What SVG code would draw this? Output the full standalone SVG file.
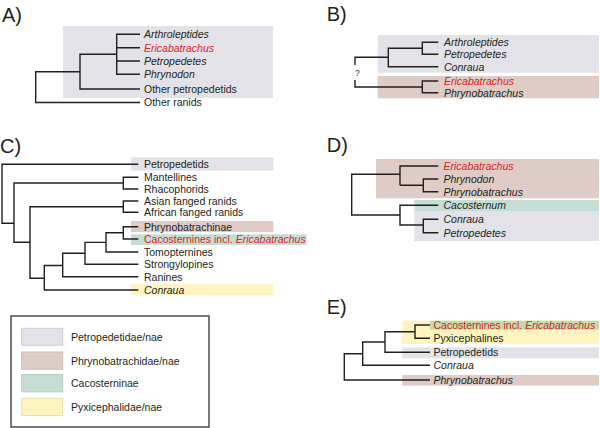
<svg xmlns="http://www.w3.org/2000/svg" width="600" height="428" viewBox="0 0 600 428">
<style>
text{font-family:"Liberation Sans",Arial,Helvetica,sans-serif;font-size:10.5px;fill:#231f20}
.pl{font-size:20px}
.q{font-size:8.5px}
.i{font-style:italic}
.r{fill:#d7261e}
.tree{fill:none;stroke:#231f20;stroke-width:1.4;stroke-linecap:butt;stroke-linejoin:miter}
.gy{fill:#e2e2e8}
.pk{fill:#dfccc6}
.gn{fill:#c5ddd4}
.yl{fill:#fff4c0}
.gnyl{fill:#c4dcaa}
.sw{stroke-width:1}
.sw.gy{stroke:#cdcdd5}
.sw.pk{stroke:#d0bcb4}
.sw.gn{stroke:#b5cfc4}
.sw.yl{stroke:#e6dfae}
</style>
<rect width="600" height="428" fill="#fff"/>
<g id="backgrounds">
<rect class="gy" x="63" y="26" width="210" height="72"/>
<rect class="gy" x="377.7" y="35" width="221.3" height="37.7"/>
<rect class="pk" x="377.7" y="76" width="221.3" height="22.3"/>
<rect class="gy" x="131" y="157.3" width="142.3" height="13.4"/>
<rect class="pk" x="131" y="221" width="142.3" height="11.2"/>
<rect class="gn" x="131" y="234.3" width="175.5" height="10.7"/>
<rect class="yl" x="131" y="284.3" width="142.3" height="11"/>
<rect class="pk" x="376" y="159" width="223" height="39.3"/>
<rect class="gn" x="414.3" y="200" width="184.7" height="11"/>
<rect class="gy" x="414.3" y="211" width="184.7" height="30"/>
<rect class="yl" x="402.3" y="320.7" width="196.7" height="23.3"/>
<rect class="gnyl" x="430" y="320.7" width="169" height="9"/>
<rect class="gy" x="402.3" y="347.3" width="196.7" height="11"/>
<rect class="pk" x="402.3" y="375" width="196.7" height="10.7"/>
</g>
<g id="panel-labels">
<text class="pl" x="2" y="21.5">A)</text>
<text class="pl" x="326.7" y="20.5">B)</text>
<text class="pl" x="0" y="152.5">C)</text>
<text class="pl" x="326.7" y="151.5">D)</text>
<text class="pl" x="326.7" y="314">E)</text>
</g>
<g id="connectors">
<path class="tree" d="M140,34.3H116.7V74.3H140M116.7,47.8H140M116.7,61H140M116.7,54.3H80V89H140M80,71.7H35.7V102.5H140"/>
<path class="tree" d="M438.3,42.3H422.3V54.3H438.3M422.3,48.3H388.3V66.7H438.3M388.3,57.3H355V65M355,80V87H422.3M438.3,81H422.3V92.7H438.3"/>
<path class="tree" d="M138.3,164.3H2V223.3H14M138.3,177.3H123.3V189H138.3M123.3,183H14V242.3H30M138.3,201H123.3V212.3H138.3M123.3,206.7H30V278.3H44.3M138.3,226.7H123.3V239H138.3M123.3,232.8H106V252H138.3M106,242.4H85V264.3H138.3M85,253.3H62.7V276.7H138.3M62.7,265.5H44.3V290H138.3"/>
<path class="tree" d="M438.3,179H423.3V191.7H438.3M423.3,185.3H400M438.3,166H400V185.3M400,174.3H351.7V215H400M438.3,205.3H400V225H423.3M438.3,219.3H423.3V232.7H438.3"/>
<path class="tree" d="M430,325H415V338.3H430M415,331.7H385V352.3H430M385,342H362.7V365.3H430M362.7,353.7H344.3V380H430"/>
</g>
<g id="A">
<g id="A-arthroleptides"><text class="i" x="144" y="38.1">Arthroleptides</text></g>
<g id="A-ericabatrachus"><text class="i r" x="144" y="51.6">Ericabatrachus</text></g>
<g id="A-petropedetes"><text class="i" x="144" y="64.8">Petropedetes</text></g>
<g id="A-phrynodon"><text class="i" x="144" y="78.1">Phrynodon</text></g>
<g id="A-other-petropedetids"><text x="144" y="92.8">Other petropedetids</text></g>
<g id="A-other-ranids"><text x="144" y="106.3">Other ranids</text></g>
</g>
<g id="B">
<g id="B-arthroleptides"><text class="i" x="444" y="46.1">Arthroleptides</text></g>
<g id="B-petropedetes"><text class="i" x="444" y="58.1">Petropedetes</text></g>
<g id="B-conraua"><text class="i" x="444" y="70.5">Conraua</text></g>
<g id="B-ericabatrachus"><text class="i r" x="444" y="84.8">Ericabatrachus</text></g>
<g id="B-phrynobatrachus"><text class="i" x="444" y="96.5">Phrynobatrachus</text></g>
<g id="B-question"><text class="q" x="355" y="76">?</text></g>
</g>
<g id="C">
<g id="C-petropedetids"><text x="144" y="168.1">Petropedetids</text></g>
<g id="C-mantellines"><text x="144" y="181.1">Mantellines</text></g>
<g id="C-rhacophorids"><text x="144" y="192.8">Rhacophorids</text></g>
<g id="C-asian"><text x="144" y="204.8">Asian fanged ranids</text></g>
<g id="C-african"><text x="144" y="216.1">African fanged ranids</text></g>
<g id="C-phrynobatrachinae"><text x="144" y="230.5">Phrynobatrachinae</text></g>
<g id="C-cacosternines"><text class="r" x="144" y="242.8">Cacosternines incl. <tspan class="i">Ericabatrachus</tspan></text></g>
<g id="C-tomopternines"><text x="144" y="255.8">Tomopternines</text></g>
<g id="C-strongylopines"><text x="144" y="268.1">Strongylopines</text></g>
<g id="C-ranines"><text x="144" y="280.5">Ranines</text></g>
<g id="C-conraua"><text class="i" x="144" y="293.8">Conraua</text></g>
</g>
<g id="D">
<g id="D-ericabatrachus"><text class="i r" x="443.5" y="169.8">Ericabatrachus</text></g>
<g id="D-phrynodon"><text class="i" x="443.5" y="182.8">Phrynodon</text></g>
<g id="D-phrynobatrachus"><text class="i" x="443.5" y="195.5">Phrynobatrachus</text></g>
<g id="D-cacosternum"><text class="i" x="443.5" y="209.1">Cacosternum</text></g>
<g id="D-conraua"><text class="i" x="443.5" y="223.1">Conraua</text></g>
<g id="D-petropedetes"><text class="i" x="443.5" y="236.5">Petropedetes</text></g>
</g>
<g id="E">
<g id="E-cacosternines"><text class="r" x="433.5" y="328.8">Cacosternines incl. <tspan class="i">Ericabatrachus</tspan></text></g>
<g id="E-pyxicephalines"><text x="433.5" y="342.1">Pyxicephalines</text></g>
<g id="E-petropedetids"><text x="433.5" y="356.1">Petropedetids</text></g>
<g id="E-conraua"><text class="i" x="433.5" y="369.1">Conraua</text></g>
<g id="E-phrynobatrachus"><text class="i" x="433.5" y="383.8">Phrynobatrachus</text></g>
</g>
<g id="legend">
<rect x="11" y="316" width="198" height="111" fill="#fff" stroke="#231f20" stroke-width="1.2"/>
<g id="legend-petropedetidae"><rect class="sw gy" x="21.7" y="328.3" width="41" height="17"/><text x="71" y="340.5">Petropedetidae/nae</text></g>
<g id="legend-phrynobatrachidae"><rect class="sw pk" x="21.7" y="352" width="41" height="17.3"/><text x="71" y="364.5">Phrynobatrachidae/nae</text></g>
<g id="legend-cacosterninae"><rect class="sw gn" x="21.7" y="374.5" width="41" height="17.3"/><text x="71" y="387.1">Cacosterninae</text></g>
<g id="legend-pyxicephalidae"><rect class="sw yl" x="21.7" y="398.3" width="41" height="17.3"/><text x="71" y="410.5">Pyxicephalidae/nae</text></g>
</g>
</svg>
